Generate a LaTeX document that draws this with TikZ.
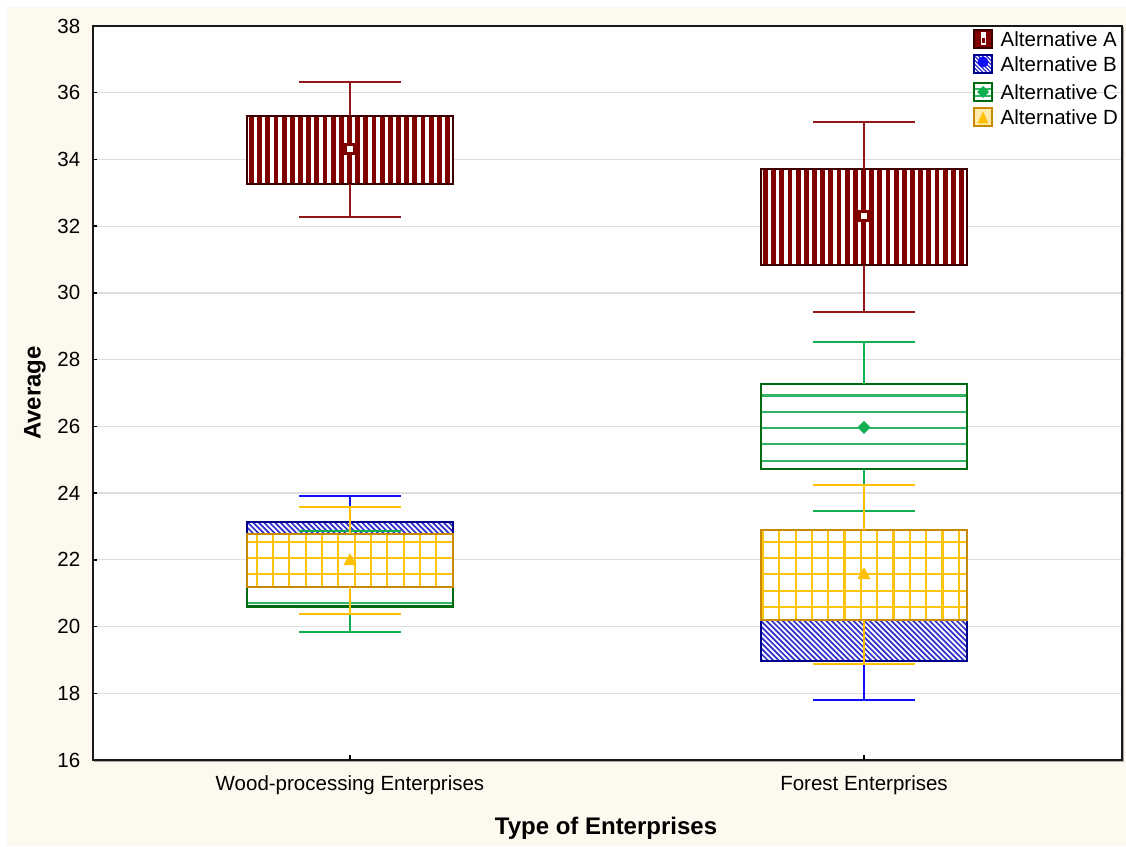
\documentclass[tikz,border=0pt]{standalone}
\usepackage{fontspec}
\setmainfont{Liberation Sans}

\definecolor{paper}{HTML}{FEF9EF}
\definecolor{gridgray}{HTML}{DDDDDD}
\definecolor{fA}{HTML}{800000}
\definecolor{bA}{HTML}{3C0000}
\definecolor{wA}{HTML}{921818}
\definecolor{fB}{HTML}{3030CC}
\definecolor{bB}{HTML}{00008B}
\definecolor{wB}{HTML}{1010FF}
\definecolor{fC}{HTML}{34B465}
\definecolor{bC}{HTML}{006A10}
\definecolor{wC}{HTML}{10B050}
\definecolor{fD}{HTML}{FFC20E}
\definecolor{bD}{HTML}{C88A00}
\definecolor{wD}{HTML}{FFC000}

% whiskers: x, low, box bottom, box top, high, style
\newcommand\wsk[6]{%
  \draw[#6] ({#1-51},{vy(#2)}) -- ({#1+51},{vy(#2)}) ({#1},{vy(#2)}) -- ({#1},{vy(#3)});
  \draw[#6] ({#1-51},{vy(#5)}) -- ({#1+51},{vy(#5)}) ({#1},{vy(#5)}) -- ({#1},{vy(#4)});}
\newcommand\bpClip[3]{\clip ({#1-103},{vy(#2)}) rectangle ({#1+103},{vy(#3)});}
\newcommand\bpEdge[4]{\draw[line width=2.4pt,#4] ({#1-103},{vy(#2)}) rectangle ({#1+103},{vy(#3)});}
\newcommand\bpBlank[3]{\fill[white] ({#1-103},{vy(#2)}) rectangle ({#1+103},{vy(#3)});}

% series A: vertical stripes, hollow square mean
\newcommand\serA[6]{%
  \bpBlank{#1}{#3}{#5}
  \begin{scope}\bpClip{#1}{#3}{#5}
    \foreach \k in {0,...,26}
      \fill[fA] ({#1-103+2+\k*8.17},{vy(#3)}) rectangle ++(4.9,{(#5-#3)*33.3636});
  \end{scope}
  \bpEdge{#1}{#3}{#5}{bA}
  \wsk{#1}{#2}{#3}{#5}{#6}{whisk,wA}
  \draw[fA,line width=2.4pt,fill=white] ({#1-4.5},{vy(#4)-4.5}) rectangle ({#1+4.5},{vy(#4)+4.5});}

% series B: diagonal hatching, round mean
\newcommand\serB[6]{%
  \bpBlank{#1}{#3}{#5}
  \pgfmathsetmacro\hh{(#5-#3)*33.3636}
  \begin{scope}\bpClip{#1}{#3}{#5}
    \foreach \k in {-20,...,42}
      \draw[fB,line width=1.7pt] ({#1-103+\k*5.44},{vy(#5)}) -- ++(\hh,-\hh);
  \end{scope}
  \bpEdge{#1}{#3}{#5}{bB}
  \wsk{#1}{#2}{#3}{#5}{#6}{whisk,wB}
  \fill[wB] ({#1},{vy(#4)}) circle (5);}

% series C: horizontal hatching, diamond mean; #7 = hatch line position from top of page
\newcommand\serC[7]{%
  \bpBlank{#1}{#3}{#5}
  \begin{scope}\bpClip{#1}{#3}{#5}
    \foreach \k in {-10,...,10}
      \draw[fC,line width=2.2pt] ({#1-103},{846-#7+\k*16.3}) -- ++(206,0);
  \end{scope}
  \bpEdge{#1}{#3}{#5}{bC}
  \wsk{#1}{#2}{#3}{#5}{#6}{whisk,wC}
  \fill[wC] ({#1},{vy(#4)+6.5}) -- ++(6.5,-6.5) -- ++(-6.5,-6.5) -- ++(-6.5,6.5) -- cycle;}

% series D: square grid, triangle mean
\newcommand\serD[6]{%
  \bpBlank{#1}{#3}{#5}
  \begin{scope}\bpClip{#1}{#3}{#5}
    \foreach \k in {-10,...,53}
      \draw[fD,line width=2.2pt] ({256.7+\k*16.33},86) -- ++(0,734);
    \foreach \k in {-13,...,32}
      \draw[fD,line width=2.2pt] (93,{304.3+\k*16.33}) -- ++(1029,0);
  \end{scope}
  \bpEdge{#1}{#3}{#5}{bD}
  \wsk{#1}{#2}{#3}{#5}{#6}{whisk,wD}
  \fill[wD] ({#1},{vy(#4)+7}) -- ++(6.5,-12) -- ++(-13,0) -- cycle;}

\begin{document}
\begin{tikzpicture}[x=1pt,y=1pt,
  declare function={vy(\v)=86+(\v-16)*33.3636;},
  whisk/.style={line width=2pt},
  ticklab/.style={font=\fontsize{20.5}{20.5}\selectfont, inner sep=0pt},
  axtitle/.style={font=\fontsize{24}{24}\selectfont\bfseries, inner sep=0pt},
  legtext/.style={font=\fontsize{20.5}{20.5}\selectfont, inner sep=0pt, anchor=west},
  legbox/.style={line width=2pt}]

\useasboundingbox (0,0) rectangle (1126,846);
\fill[white] (0,0) rectangle (1126,846);
\fill[paper] (7,0) rectangle (1126,839);

% plot area and grid
\fill[white] (93,86) rectangle (1122,820);
\foreach \v in {18,20,...,36}
  \draw[gridgray,line width=1.2pt] (93,{vy(\v)}) -- (1122,{vy(\v)});

% Wood-processing Enterprises
\serA{350}{32.27}{33.26}{34.31}{35.31}{36.31}
\serB{350}{20.80}{21.40}{22.30}{23.14}{23.91}
\serC{350}{19.83}{20.60}{21.70}{22.40}{22.87}{603}
\serD{350}{20.39}{21.19}{21.99}{22.77}{23.57}

% Forest Enterprises
\serA{864}{29.43}{30.84}{32.30}{33.71}{35.12}
\serB{864}{17.80}{18.97}{20.30}{21.80}{22.50}
\serC{864}{23.46}{24.73}{25.97}{27.27}{28.53}{460.7}
\serD{864}{18.87}{20.19}{21.57}{22.89}{24.24}

% frame with a faint shadow, and ticks
\draw[black!35,line width=1.2pt] (94,84.6) -- (1123.6,84.6) -- (1123.6,819);
\draw[black!90,line width=2.2pt] (93,86) rectangle (1122,820);
\foreach \v in {18,20,...,36}
  \draw[line width=1.5pt] (93,{vy(\v)}) -- (97,{vy(\v)});
\draw[line width=1.5pt] (350,86) -- (350,91);
\draw[line width=1.5pt] (864,86) -- (864,91);

% axis labels
\foreach \v in {16,18,...,38}
  \node[ticklab,anchor=east] (y\v) at (80.5,{vy(\v)}) {\v};
\node[ticklab] (cat1) at (350,61) {Wood-processing Enterprises};
\node[ticklab] (cat2) at (864,61) {Forest Enterprises};
\node[axtitle] (xtitle) at (606,18) {Type of Enterprises};
\node[axtitle,rotate=90] (ytitle) at (35,453) {Average};

% legend
\fill[fA] (974,798) rectangle (992,816);
\draw[bA,legbox] (974,798) rectangle (992,816);
\fill[white] (980.5,800.5) rectangle (985.5,813.5);
\fill[fA] (981.5,803) rectangle (984.5,808);
\node[legtext] (legA) at (1000.5,807) {Alternative A};

\fill[white] (974,772.5) rectangle (992,790.5);
\begin{scope}
  \clip (974,772.5) rectangle (992,790.5);
  \foreach \k in {-6,...,6}
    \draw[fB,line width=1.2pt] ({974+\k*4},790.5) -- ++(18,-18);
\end{scope}
\fill[wB] (983,784) circle (5.5);
\draw[bB,legbox] (974,772.5) rectangle (992,790.5);
\node[legtext] (legB) at (1000.5,781.5) {Alternative B};

\fill[white] (974,745) rectangle (992,763);
\draw[fC,line width=1.2pt] (974,750) -- (992,750) (974,757) -- (992,757);
\fill[wC] (983,760) -- (989,754) -- (983,748) -- (977,754) -- cycle;
\draw[bC,legbox] (974,745) rectangle (992,763);
\node[legtext] (legC) at (1000.5,754) {Alternative C};

\fill[fD!35] (974,719.5) rectangle (992,737.5);
\fill[wD] (983,734.5) -- (988.5,722.5) -- (977.5,722.5) -- cycle;
\draw[bD,legbox] (974,719.5) rectangle (992,737.5);
\node[legtext] (legD) at (1000.5,728.5) {Alternative D};
\end{tikzpicture}
\end{document}
